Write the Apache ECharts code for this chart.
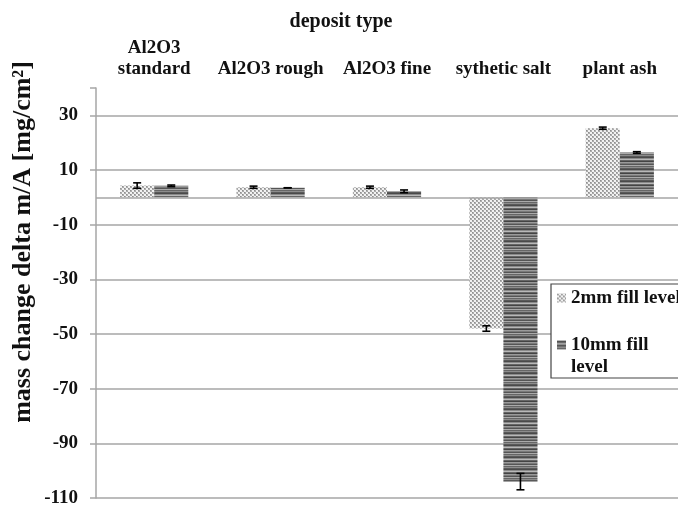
<!DOCTYPE html>
<html>
<head>
<meta charset="utf-8">
<script src="https://cdn.jsdelivr.net/npm/echarts@6/dist/echarts.min.js"></script>
<style>html,body{margin:0;padding:0;background:#fff}#c{width:678px;height:508px}</style>
</head>
<body>
<div id="c"></div>
<script>
const categories = ['Al2O3\nstandard', 'Al2O3 rough', 'Al2O3 fine', 'sythetic salt', 'plant ash'];
const seriesNames = ['2mm fill level', '10mm fill level'];
const values2mm = [4.3, 3.7, 3.7, -48.0, 25.3];
const errors2mm = [1.0, 0.4, 0.4, 1.0, 0.4];
const values10mm = [4.2, 3.5, 2.2, -104.0, 16.4];
const errors10mm = [0.3, 0, 0.5, 3.0, 0.3];
const yTicks = [-110, -90, -70, -50, -30, -10, 10, 30];

function makePattern(w, h, draw) {
  const c = document.createElement('canvas');
  c.width = w; c.height = h;
  const ctx = c.getContext('2d');
  draw(ctx);
  return { image: c, repeat: 'repeat' };
}
const dotPattern = makePattern(4, 4, ctx => {
  ctx.fillStyle = '#f2f2f2'; ctx.fillRect(0, 0, 4, 4);
  ctx.fillStyle = '#ababab'; ctx.fillRect(0, 0, 2, 2); ctx.fillRect(2, 2, 2, 2);
  ctx.fillStyle = '#8f8f8f'; ctx.fillRect(0, 0, 1, 1); ctx.fillRect(2, 2, 1, 1);
});
const stripeRows = ['#5a5a5a', '#4a4a4a', '#8a8a8a', '#b8b8b8', '#666', '#444', '#9a9a9a', '#7a7a7a', '#555', '#aaa', '#666', '#8c8c8c'];
const stripePattern = makePattern(4, stripeRows.length, ctx => {
  stripeRows.forEach((col, i) => { ctx.fillStyle = col; ctx.fillRect(0, i, 4, 1); });
});

const BAR_FRAC = 0.293;
const errData = [];
values2mm.forEach((v, i) => errData.push([i, v, errors2mm[i], -1]));
values10mm.forEach((v, i) => errData.push([i, v, errors10mm[i], 1]));

const font = 'Liberation Serif';
const chart = echarts.init(document.getElementById('c'));
chart.setOption({
  animation: false,
  backgroundColor: '#fff',
  textStyle: { fontFamily: font },
  grid: { left: 96, right: 0, top: 88, bottom: 10, containLabel: false, outerBoundsMode: 'none' },
  xAxis: {
    type: 'category',
    data: categories,
    position: 'top',
    name: 'deposit type',
    nameLocation: 'middle',
    nameGap: 56,
    nameTextStyle: { fontFamily: font, fontWeight: 'bold', fontSize: 20, color: '#111', padding: [0, 92, 0, 0] },
    axisLine: { show: false, onZero: false },
    axisTick: { show: false },
    axisLabel: { fontFamily: font, fontWeight: 'bold', fontSize: 19, color: '#111', margin: 8, lineHeight: 21, interval: 0 },
    splitLine: { show: false }
  },
  yAxis: {
    type: 'value',
    min: -110,
    max: 40,
    interval: 20,
    axisLine: { show: true, lineStyle: { color: '#a6a6a6', width: 1.5 } },
    axisTick: { show: true, length: 6, lineStyle: { color: '#a6a6a6', width: 1.5 } },
    axisLabel: {
      fontFamily: font, fontWeight: 'bold', fontSize: 19, color: '#111', margin: 18,
      formatter: v => (yTicks.indexOf(v) >= 0 ? String(v) : '')
    },
    splitLine: { show: true, showMinLine: true, showMaxLine: false, lineStyle: { color: '#a6a6a6', width: 1.5 } }
  },
  legend: {
    data: seriesNames,
    orient: 'vertical',
    left: 551,
    top: 284,
    padding: [3, 10, 0, 6],
    itemGap: 3,
    itemWidth: 9,
    itemHeight: 9,
    backgroundColor: '#fff',
    borderColor: '#444',
    borderWidth: 1.2,
    borderRadius: 0,
    icon: 'rect',
    formatter: n => (n === '10mm fill level' ? ' \n10mm fill\nlevel' : n),
    textStyle: { fontFamily: font, fontWeight: 'bold', fontSize: 19, color: '#111', lineHeight: 22 }
  },
  graphic: [{
    type: 'text',
    x: 23, y: 242,
    rotation: Math.PI / 2,
    style: {
      text: 'mass change delta m/A [mg/cm²]',
      fontFamily: font, fontWeight: 'bold', fontSize: 26, fill: '#111',
      align: 'center', verticalAlign: 'middle'
    }
  }],
  series: [
    {
      name: seriesNames[0], type: 'bar', data: values2mm,
      barWidth: (BAR_FRAC * 100) + '%', barGap: '0%',
      itemStyle: { color: dotPattern },
      markLine: {
        silent: true, symbol: 'none', label: { show: false },
        lineStyle: { color: '#a6a6a6', width: 1.5, type: 'solid' },
        data: [{ yAxis: 0 }]
      },
      z: 3
    },
    {
      name: seriesNames[1], type: 'bar', data: values10mm,
      barWidth: (BAR_FRAC * 100) + '%', barGap: '0%',
      itemStyle: { color: stripePattern },
      z: 3
    },
    {
      type: 'custom', data: errData, z: 10, silent: true,
      renderItem: (params, api) => {
        const idx = api.value(0), val = api.value(1), err = api.value(2), side = api.value(3);
        const band = api.size([1, 0])[0];
        const off = side * band * BAR_FRAC / 2;
        const p1 = api.coord([idx, val + err]);
        const p2 = api.coord([idx, val - err]);
        const x = p1[0] + off;
        const cw = 4;
        const st = { stroke: '#000', lineWidth: 1.6 };
        return {
          type: 'group', children: [
            { type: 'line', shape: { x1: x, y1: p1[1], x2: x, y2: p2[1] }, style: st },
            { type: 'line', shape: { x1: x - cw, y1: p1[1], x2: x + cw, y2: p1[1] }, style: st },
            { type: 'line', shape: { x1: x - cw, y1: p2[1], x2: x + cw, y2: p2[1] }, style: st }
          ]
        };
      }
    }
  ]
});
</script>
</body>
</html>
